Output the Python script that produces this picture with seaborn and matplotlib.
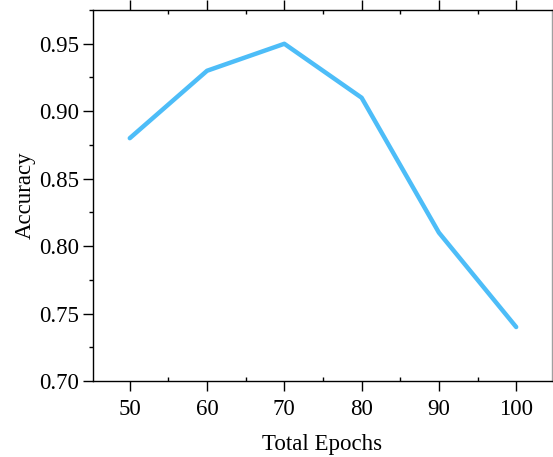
import matplotlib
matplotlib.use('Agg')
import matplotlib.pyplot as plt
import seaborn as sns
import pandas as pd
from matplotlib.ticker import MultipleLocator

# Data
epochs = [50, 60, 70, 80, 90, 100]
accuracy = [0.88, 0.93, 0.95, 0.91, 0.81, 0.74]

df = pd.DataFrame({'Total Epochs': epochs, 'Accuracy': accuracy})

sns.set_style('ticks')
plt.rcParams['font.family'] = ['Liberation Serif', 'DejaVu Serif']
plt.rcParams['font.size'] = 16.5
plt.rcParams['text.color'] = 'black'
plt.rcParams['axes.labelcolor'] = 'black'
plt.rcParams['xtick.color'] = 'black'
plt.rcParams['ytick.color'] = 'black'

fig = plt.figure(figsize=(5.53, 4.57), dpi=100)
ax = fig.add_axes([0.1676, 0.1663, 0.8301, 0.8117])

sns.lineplot(data=df, x='Total Epochs', y='Accuracy', ax=ax,
             color='#4dbdf8', linewidth=3.2, solid_capstyle='round')

ax.set_xlim(45.2, 104.6)
ax.set_ylim(0.70, 0.975)
ax.xaxis.set_major_locator(MultipleLocator(10))
ax.xaxis.set_minor_locator(MultipleLocator(5))
ax.yaxis.set_major_locator(MultipleLocator(0.05))
ax.yaxis.set_minor_locator(MultipleLocator(0.025))
ax.yaxis.set_major_formatter(plt.FormatStrFormatter('%.2f'))

# ticks: major outward, x minor inward, top ticks too, no right ticks
ax.tick_params(axis='x', which='major', direction='out', length=7, width=1,
               top=True, bottom=True, labelsize=16.5, colors='black', pad=6)
ax.tick_params(axis='x', which='minor', direction='in', length=3, width=1,
               top=True, bottom=True, colors='black')
ax.tick_params(axis='y', which='major', direction='out', length=7, width=1,
               left=True, right=False, labelsize=16.5, pad=3, colors='black')
ax.tick_params(axis='y', which='minor', direction='out', length=3, width=1,
               left=True, right=False, colors='black')

for side in ['left', 'bottom', 'top']:
    ax.spines[side].set_visible(True)
    ax.spines[side].set_color('black')
    ax.spines[side].set_linewidth(1)
ax.spines['right'].set_visible(True)
ax.spines['right'].set_color('#a0a0a0')
ax.spines['right'].set_linewidth(1)

ax.set_xlabel('Total Epochs', fontsize=16.5, labelpad=10, color='black')
ax.set_ylabel('Accuracy', fontsize=16.5, labelpad=2, color='black')

fig.savefig('out.png', dpi=100)
